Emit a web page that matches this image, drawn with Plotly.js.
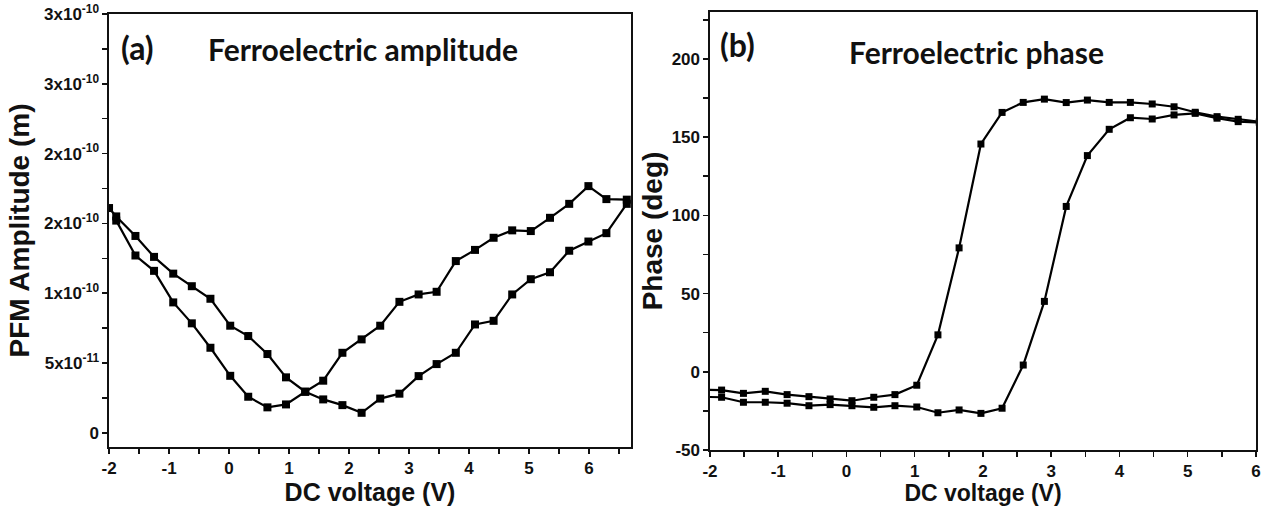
<!DOCTYPE html>
<html>
<head>
<meta charset="utf-8">
<script src="https://cdn.plot.ly/plotly-3.0.1.min.js"></script>
<style>html,body{margin:0;padding:0;background:#fff;}#chart{width:1262px;height:506px;}</style>
</head>
<body>
<div id="chart"></div>
<script>
// ---------- Panel (a): PFM amplitude ----------
const ampVoltageA = [-1.88,-1.56,-1.25,-0.93,-0.62,-0.31,0.02,0.32,0.64,0.95,1.27,1.57,1.89,2.21,2.52,2.84,3.16,3.46,3.78,4.10,4.41,4.72,5.03,5.35,5.67,5.99,6.29,6.63];
const ampBranchA = [15.2e-11,12.7e-11,11.6e-11,9.34e-11,7.84e-11,6.09e-11,4.08e-11,2.58e-11,1.82e-11,2.03e-11,2.94e-11,3.73e-11,5.73e-11,6.69e-11,7.67e-11,9.38e-11,9.91e-11,10.1e-11,12.3e-11,13.1e-11,13.97e-11,14.5e-11,14.45e-11,15.4e-11,16.4e-11,17.67e-11,16.74e-11,16.7e-11];
const ampVoltageB = [-2.0,-1.88,-1.56,-1.25,-0.93,-0.62,-0.31,0.02,0.32,0.64,0.95,1.27,1.57,1.89,2.21,2.52,2.84,3.16,3.46,3.78,4.10,4.41,4.72,5.03,5.35,5.67,5.99,6.29,6.63];
const ampBranchB = [16.1e-11,15.5e-11,14.1e-11,12.6e-11,11.4e-11,10.5e-11,9.6e-11,7.67e-11,6.93e-11,5.64e-11,3.97e-11,2.94e-11,2.39e-11,1.98e-11,1.43e-11,2.45e-11,2.8e-11,4.06e-11,4.92e-11,5.73e-11,7.76e-11,8.02e-11,9.91e-11,11.0e-11,11.5e-11,13.04e-11,13.7e-11,14.3e-11,16.4e-11];
const ampTickVals = [0,5e-11,1e-10,1.5e-10,2e-10,2.5e-10,3e-10];
const ampTickText = ['0','5x10<sup>-11</sup>','1x10<sup>-10</sup>','2x10<sup>-10</sup>','2x10<sup>-10</sup>','3x10<sup>-10</sup>','3x10<sup>-10</sup>'];
const ampXTickVals = [-2,-1,0,1,2,3,4,5,6];
const ampXTickText = ['-2','-1','0','1','2','3','4','5','6'];

// ---------- Panel (b): phase ----------
const phaseVoltage = [-2.15,-1.83,-1.51,-1.19,-0.87,-0.55,-0.24,0.08,0.40,0.71,1.03,1.34,1.65,1.97,2.28,2.59,2.90,3.22,3.53,3.85,4.16,4.48,4.80,5.11,5.43,5.74,6.05];
const phaseBranch1 = [-11.5,-11.7,-13.8,-12.5,-14.6,-15.9,-17.4,-18.5,-16.3,-14.6,-8.6,23.6,79.2,145.6,165.8,172.2,174.3,172.1,173.7,172.2,172.2,171.2,169.4,165.9,163.1,161.4,159.9];
const phaseBranch2 = [-16.0,-16.3,-19.5,-19.5,-20.1,-21.7,-21.0,-21.7,-22.7,-21.7,-22.5,-26.2,-24.4,-26.6,-23.3,4.3,45.0,105.7,138.2,155.0,162.4,161.6,164.2,165.2,162.1,159.9,159.3];
const phaseTickVals = [-50,0,50,100,150,200];
const phaseTickText = ['-50','0','50','100','150','200'];
const phaseXTickVals = [-2,-1,0,1,2,3,4,5,6];
const phaseXTickText = ['-2','-1','0','1','2','3','4','5','6'];

const FONT = 'Liberation Sans, Arial, sans-serif';
const TFONT = 'Lato, "Open Sans", sans-serif';
const bold = arr => arr.map(t => '<b>' + t + '</b>');

function trace(x, y, xa, ya, ms) {
  return {x: x, y: y, xaxis: xa, yaxis: ya, type: 'scatter', mode: 'lines+markers',
    line: {color: '#000', width: 2.2}, marker: {symbol: 'square', size: ms, color: '#000'},
    hoverinfo: 'x+y'};
}

const data = [
  trace(ampVoltageA, ampBranchA, 'x', 'y', 8),
  trace(ampVoltageB, ampBranchB, 'x', 'y', 8),
  trace(phaseVoltage, phaseBranch1, 'x2', 'y2', 7),
  trace(phaseVoltage, phaseBranch2, 'x2', 'y2', 7)
];

function minorTicks(d) {
  return {ticks: 'outside', ticklen: 5, tickwidth: 1.5, tickcolor: '#111', tickmode: 'linear', tick0: 0, dtick: d};
}
function axisBase(extra) {
  return Object.assign({
    showgrid: false, zeroline: false, showline: true, linecolor: '#111', linewidth: 1.6, mirror: true,
    ticks: 'outside', ticklen: 5, tickwidth: 1.5, tickcolor: '#111',
    tickfont: {family: FONT, size: 17, color: '#111'},
    automargin: false, tickmode: 'array'
  }, extra);
}
function titleObj(t, size, so) {
  return {text: '<b>' + t + '</b>', font: {family: FONT, size: size, color: '#111'}, standoff: so};
}

const layout = {
  width: 1262, height: 506,
  margin: {l: 0, r: 0, t: 0, b: 0},
  paper_bgcolor: '#fff', plot_bgcolor: '#fff',
  showlegend: false,
  xaxis: axisBase({
    domain: [0.0864, 0.5], range: [-2, 6.7], anchor: 'y',
    tickvals: ampXTickVals, ticktext: bold(ampXTickText),
    minor: minorTicks(0.5),
    title: titleObj('DC voltage (V)', 25, 2)
  }),
  yaxis: axisBase({
    domain: [0.1166, 0.9723], range: [-1.02e-11, 3.0e-10], anchor: 'x',
    tickvals: ampTickVals, ticktext: bold(ampTickText),
    minor: minorTicks(2.5e-11),
    title: titleObj('PFM Amplitude (m)', 28, 6)
  }),
  xaxis2: axisBase({
    domain: [0.5626, 0.9952], range: [-2, 6], anchor: 'y2',
    tickvals: phaseXTickVals, ticktext: bold(phaseXTickText),
    minor: minorTicks(0.5),
    title: titleObj('DC voltage (V)', 23, 0)
  }),
  yaxis2: axisBase({
    domain: [0.1107, 0.9763], range: [-50, 230], anchor: 'x2',
    tickvals: phaseTickVals, ticktext: bold(phaseTickText),
    minor: minorTicks(25),
    title: titleObj('Phase (deg)', 28, 1)
  }),
  annotations: [
    {text: '<b>(a)</b>', xref: 'paper', yref: 'paper', x: 0.0945, y: 0.907, xanchor: 'left', yanchor: 'middle', showarrow: false,
     font: {family: TFONT, size: 32, color: '#111'}},
    {text: '<b>Ferroelectric amplitude</b>', xref: 'paper', yref: 'paper', x: 0.1630, y: 0.904, xanchor: 'left', yanchor: 'middle', showarrow: false,
     font: {family: TFONT, size: 30, color: '#111'}},
    {text: '<b>(b)</b>', xref: 'paper', yref: 'paper', x: 0.5690, y: 0.912, xanchor: 'left', yanchor: 'middle', showarrow: false,
     font: {family: TFONT, size: 32, color: '#111'}},
    {text: '<b>Ferroelectric phase</b>', xref: 'paper', yref: 'paper', x: 0.6710, y: 0.897, xanchor: 'left', yanchor: 'middle', showarrow: false,
     font: {family: TFONT, size: 30, color: '#111'}}
  ]
};

Plotly.newPlot('chart', data, layout, {displayModeBar: false, staticPlot: true});
</script>
</body>
</html>
